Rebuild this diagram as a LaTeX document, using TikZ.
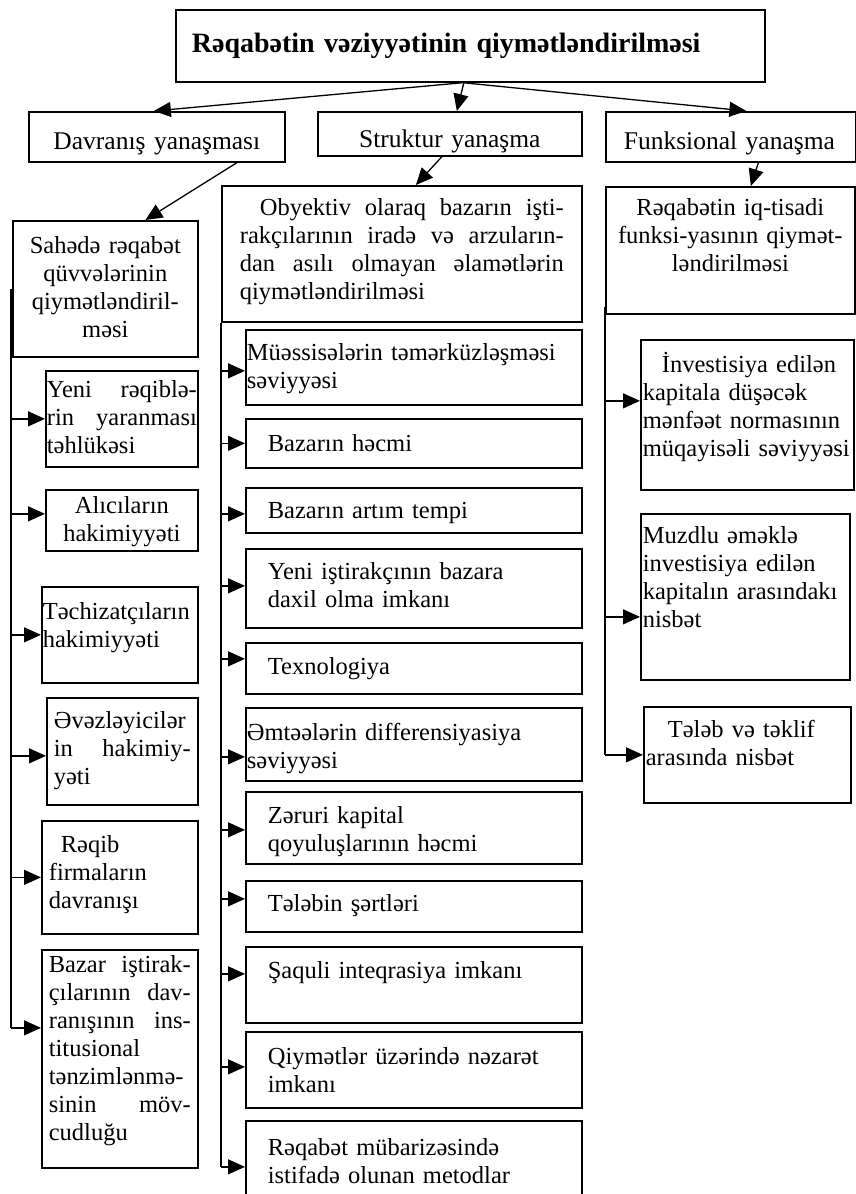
\documentclass[tikz,border=0pt]{standalone}
\usepackage{fontspec}
\setmainfont{Liberation Serif}
\usetikzlibrary{arrows.meta}
\hyphenpenalty=10000

\tikzset{
  x=1pt, y=-1pt,
  box/.style={draw, line width=1.7pt, anchor=north west, inner ysep=0pt, inner xsep=1pt,
    align=left, font=\fontsize{24.5}{28}\selectfont},
  head/.style={box, font=\fontsize{25.5}{28}\selectfont},
  arr/.style={-{Triangle[length=17pt,width=15pt]}, line width=1.3pt},
  trunk/.style={line width=2pt}
}

\begin{document}
\begin{tikzpicture}
        \useasboundingbox (0,0) rectangle (856,1194);
        \clip (0,0) rectangle (856,1194);

        % top
        \node[box, font=\bfseries\fontsize{28}{32}\selectfont, text width=557pt, inner xsep=16pt, text height=43pt, text depth=29pt] (top) at (175,9) {Rəqabətin vəziyyətinin qiymətləndirilməsi};

        % approaches
        \node[head, align=center, text width=248pt, inner xsep=4pt, text height=38pt, text depth=12pt] (davr) at (28,111) {Davranış yanaşması};
        \node[head, align=center, text width=256pt, inner xsep=4pt, text height=36pt, text depth=8pt] (strukt) at (317,111) {Struktur yanaşma};
        \node[head, text width=214pt, inner xsep=18pt, text height=38pt, text depth=12pt] (funk) at (605,111) {Funksional yanaşma};

        % left column
        \node[box, align=center, text width=177pt, inner xsep=4pt, text height=33pt, text depth=103pt] (sahede) at (12,220) {Sahədə rəqabət\\qüvvələrinin\\qiymətləndiril-\\məsi};
        \node[box, text width=150pt, text height=27pt, text depth=69pt] (reqib) at (45,370) {Yeni\hfill rəqiblə-\\rin\hfill yaranması\\təhlükəsi};
        \node[box, align=center, text width=150pt, text height=24pt, text depth=37pt] (alici) at (45,489) {Alıcıların\\hakimiyyəti};
        \node[box, text width=154pt, text height=33pt, text depth=63pt] (techiz) at (41,586) {Təchizatçıların\\hakimiyyəti};
        \node[box, text width=137pt, inner xsep=7pt, text height=31pt, text depth=76pt] (evez) at (46,697) {Əvəzləyicilər\\in\hfill hakimiy-\\yəti};
        \node[box, text width=142pt, inner xsep=7pt, text height=32pt, text depth=81pt] (firma) at (41,820) {\hspace*{12pt}Rəqib\\firmaların\\davranışı};
        \node[box, text width=142pt, inner xsep=7pt, text height=23pt, text depth=195pt] (bazar) at (41,949) {Bazar\hfill iştirak-\\çılarının\hfill dav-\\ranışının\hfill ins-\\titusional\\tənzimlənmə-\\sinin\hfill möv-\\cudluğu};

        % middle column
        \node[box, text width=324pt, inner xsep=18pt, text height=30pt, text depth=106pt] (obyektiv) at (221,185) {\hspace*{20pt}Obyektiv\hfill olaraq\hfill bazarın\hfill işti-\\rakçılarının\hfill iradə\hfill və\hfill arzuların-\\dan\hfill asılı\hfill olmayan\hfill əlamətlərin\\qiymətləndirilməsi};
        \node[box, text width=334pt, text height=31pt, text depth=44pt] (muess) at (245,329) {Müəssisələrin təmərküzləşməsi\\səviyyəsi};
        \node[box, text width=292pt, inner xsep=22pt, text height=33pt, text depth=16pt] (hecm) at (245,418) {Bazarın həcmi};
        \node[box, text width=292pt, inner xsep=22pt, text height=31pt, text depth=14pt] (artim) at (245,487) {Bazarın artım tempi};
        \node[box, text width=292pt, inner xsep=22pt, text height=31pt, text depth=48pt] (istirak) at (245,548) {Yeni iştirakçının bazara\\daxil olma imkanı};
        \node[box, text width=292pt, inner xsep=22pt, text height=32pt, text depth=19pt] (texno) at (245,642) {Texnologiya};
        \node[box, text width=334pt, text height=33pt, text depth=40pt] (emtee) at (245,707) {Əmtəələrin differensiyasiya\\səviyyəsi};
        \node[box, text width=292pt, inner xsep=22pt, text height=32pt, text depth=40pt] (zeruri) at (245,791) {Zəruri kapital\\qoyuluşlarının həcmi};
        \node[box, text width=292pt, inner xsep=22pt, text height=31pt, text depth=20pt] (telebin) at (245,880) {Tələbin şərtləri};
        \node[box, text width=292pt, inner xsep=22pt, text height=32pt, text depth=44pt] (saquli) at (245,946) {Şaquli inteqrasiya imkanı};
        \node[box, text width=292pt, inner xsep=22pt, text height=33pt, text depth=43pt] (nezaret) at (245,1031) {Qiymətlər üzərində nəzarət\\imkanı};
        \node[box, text width=292pt, inner xsep=22pt, text height=35pt, text depth=57pt] (metod) at (245,1120) {Rəqabət mübarizəsində\\istifadə olunan metodlar};

        % right column
        \node[box, align=center, text width=241pt, inner xsep=4pt, text height=29pt, text depth=98pt] (funksiya) at (605,186) {Rəqabətin iq-tisadi\\funksi-yasının qiymət-\\ləndirilməsi};
        \node[box, text width=209pt, inner xsep=2pt, text height=33pt, text depth=117pt] (menfeet) at (640,339) {\hspace*{19pt}İnvestisiya edilən\\kapitala düşəcək\\mənfəət normasının\\müqayisəli səviyyəsi};
        \node[box, text width=205pt, inner xsep=2pt, text height=30pt, text depth=136pt] (muzd) at (640,513) {Muzdlu əməklə\\investisiya edilən\\kapitalın arasındakı\\nisbət};
        \node[box, text width=203pt, inner xsep=2pt, text height=31pt, text depth=65pt] (teklif) at (643,706) {\hspace*{22pt}Tələb və təklif\\arasında nisbət};

        % arrows from the top
        \draw[arr] ([xshift=-7.5pt]top.south) -- ([xshift=-3pt]davr.north);
        \draw[arr] ([xshift=-6.5pt]top.south) -- ([xshift=7pt]strukt.north);
        \draw[arr] ([xshift=-7.5pt]top.south) -- ([xshift=15.5pt]funk.north);
        \draw[arr] ([xshift=80pt]davr.south) -- ([xshift=40pt]sahede.north);
        \draw[arr] ([xshift=-8pt]strukt.south) -- ([xshift=14pt]obyektiv.north);
        \draw[arr] ([xshift=27.5pt]funk.south) -- ([xshift=20.5pt]funksiya.north);

        % left trunk
        \coordinate (ltrunk) at ([xshift=-1pt]sahede.west);
        \draw[trunk] (ltrunk) -- ([yshift=31pt]bazar.west -| ltrunk);
        \draw[arr] (reqib.west -| ltrunk) -- (reqib.west);
        \draw[arr] ([yshift=6.5pt]alici.west -| ltrunk) -- ([yshift=6.5pt]alici.west);
        \draw[arr] (techiz.west -| ltrunk) -- (techiz.west);
        \draw[arr] ([yshift=-4.5pt]evez.west -| ltrunk) -- ([yshift=-4.5pt]evez.west);
        \draw[arr] (firma.west -| ltrunk) -- (firma.west);
        \draw[arr] ([yshift=31pt]bazar.west -| ltrunk) -- ([yshift=31pt]bazar.west);

        % middle trunk
        \coordinate (mtrunk) at (obyektiv.south west);
        \draw[trunk] (mtrunk) -- (metod.west -| mtrunk);
        \draw[arr] ([yshift=-3.5pt]muess.west -| mtrunk) -- ([yshift=-3.5pt]muess.west);
        \draw[arr] (hecm.west -| mtrunk) -- (hecm.west);
        \draw[arr] ([yshift=-3.5pt]artim.west -| mtrunk) -- ([yshift=-3.5pt]artim.west);
        \draw[arr] ([yshift=2.5pt]istirak.west -| mtrunk) -- ([yshift=2.5pt]istirak.west);
        \draw[arr] ([yshift=9.5pt]texno.west -| mtrunk) -- ([yshift=9.5pt]texno.west);
        \draw[arr] ([yshift=-12.5pt]emtee.west -| mtrunk) -- ([yshift=-12.5pt]emtee.west);
        \draw[arr] ([yshift=-2pt]zeruri.west -| mtrunk) -- ([yshift=-2pt]zeruri.west);
        \draw[arr] ([yshift=7.5pt]telebin.west -| mtrunk) -- ([yshift=7.5pt]telebin.west);
        \draw[arr] ([yshift=11pt]saquli.west -| mtrunk) -- ([yshift=11pt]saquli.west);
        \draw[arr] ([yshift=3pt]nezaret.west -| mtrunk) -- ([yshift=3pt]nezaret.west);
        \draw[arr] (metod.west -| mtrunk) -- (metod.west);

        % right trunk
        \coordinate (rtrunk) at ([yshift=8pt]funksiya.south west);
        \draw[trunk] (rtrunk) -- (teklif.west -| rtrunk);
        \draw[arr] ([yshift=14pt]menfeet.west -| rtrunk) -- ([yshift=14pt]menfeet.west);
        \draw[arr] ([yshift=-20pt]muzd.west -| rtrunk) -- ([yshift=-20pt]muzd.west);
        \draw[arr] (teklif.west -| rtrunk) -- (teklif.west);
    \end{tikzpicture}
\end{document}
